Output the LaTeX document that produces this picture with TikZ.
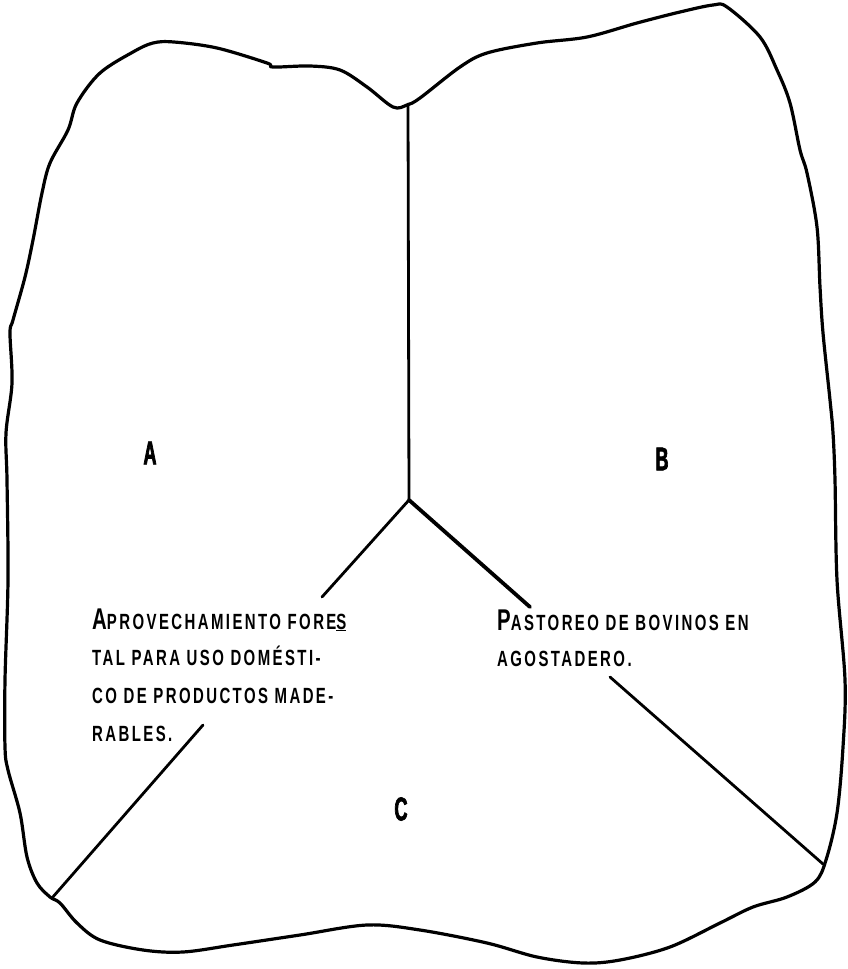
\documentclass[tikz,border=0pt]{standalone}
\usepackage{fontspec}
\setmainfont{Liberation Sans}
\newfontfamily\lblfont[FakeStretch=0.68,LetterSpace=11]{Liberation Sans Bold}
\newfontfamily\regfont[FakeStretch=0.55,FakeBold=2]{Liberation Sans Bold}
\begin{document}
\begin{tikzpicture}[x=1pt,y=-1pt,
  outline/.style={line width=3.2pt, line join=round},
  spoke/.style={line width=2.8pt, line cap=round},
  thickspoke/.style={line width=3.8pt, line cap=round},
  lbl/.style={inner sep=0pt, anchor=base west, font=\lblfont\fontsize{22}{22}\selectfont},
  region/.style={inner sep=0pt, font=\regfont\fontsize{33}{33}\selectfont}]
\useasboundingbox (0,0) rectangle (847,969);
% outline of the plot
\draw[outline] plot[smooth cycle, tension=0.55] coordinates {
 (174,42) (217,48) (267,63) (273,67) (310,66) (340,70) (367,87) (393,107)
 (407,105) (420,98) (460,67) (487,53) (537,43) (587,37) (637,23) (680,12)
 (713,5) (727,7) (760,37) (777,70) (790,103) (800,150) (807,173) (817,227)
 (820,287) (823,333) (830,400) (833,433) (835,480) (837,580) (845,680)
 (843,747) (837,813) (826,860) (815,882) (787,897) (753,907) (720,923)
 (670,947) (620,960) (583,963) (537,957) (487,943) (420,930) (367,925)
 (300,935) (233,945) (183,952) (143,950) (100,940) (77,923) (60,903)
 (50,897) (37,883) (27,857) (20,813) (8,770) (5,747) (5,680) (8,580)
 (7,480) (6,433) (12,383) (10,333) (13,320) (25,277) (33,240) (42,193)
 (50,163) (68,130) (77,103) (100,73) (133,52) (153,43)};
% division lines
\coordinate (top) at (408,104);
\coordinate (J) at (409,500);
\coordinate (L1) at (322,597);
\coordinate (L2) at (203,725);
\coordinate (L3) at (52,898);
\coordinate (R1) at (530,607);
\coordinate (R2) at (610,677);
\coordinate (R3) at (823,864);
\draw[spoke] (top) -- (J);
\draw[spoke] (J) -- (L1);
\draw[spoke] (L2) -- (L3);
\draw[thickspoke] (J) -- (R1);
\draw[spoke] (R2) -- (R3);
% region letters
\node[region] (rA) at (150,453) {A};
\node[region] (rB) at (662,459) {B};
\node[region] (rC) at (401,809) {C};
% left text
\node[lbl] (t1) at (92,629) {{\fontsize{30}{30}\selectfont A}PROVECHAMIENTO FORE\underline{S}};
\node[lbl] (t2) at (92,665) {TAL PARA USO DOMÉSTI-};
\node[lbl] (t3) at (92,703) {CO DE PRODUCTOS MADE-};
\node[lbl] (t4) at (92,741) {RABLES.};
% right text
\node[lbl] (u1) at (497,630) {{\fontsize{30}{30}\selectfont P}ASTOREO DE BOVINOS EN};
\node[lbl] (u2) at (497,666) {AGOSTADERO.};
\end{tikzpicture}
\end{document}
